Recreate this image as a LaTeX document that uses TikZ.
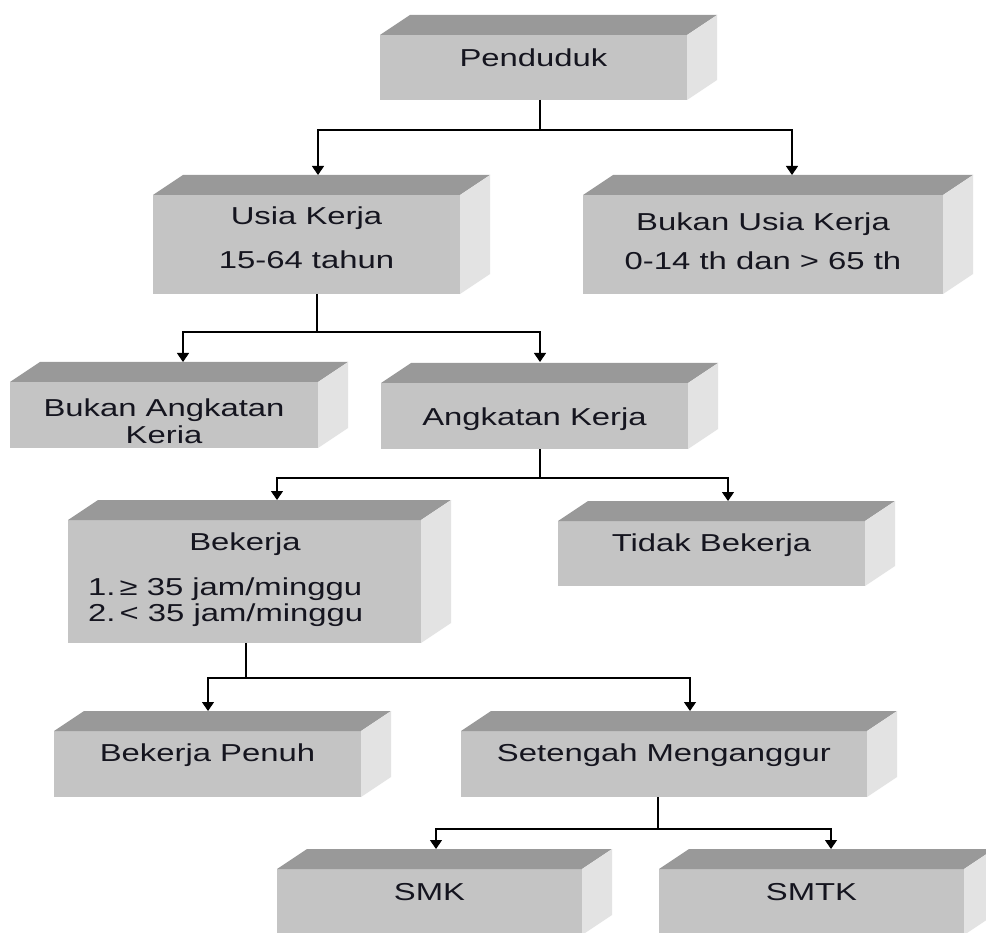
\documentclass[tikz,border=0pt]{standalone}
\usepackage{fontspec}
\setmainfont{Liberation Sans}[FakeStretch=1.34]
\usetikzlibrary{arrows.meta,calc}
\definecolor{frontc}{HTML}{C4C4C4}
\definecolor{topc}{HTML}{999999}
\definecolor{sidec}{HTML}{E3E3E3}
\definecolor{inkc}{HTML}{15151F}
\tikzset{
  frontface/.style={fill=frontc, draw=none, inner sep=0pt, outer sep=0pt, anchor=north west},
  txt/.style={font=\fontsize{24.5}{28}\selectfont, text=inkc, inner sep=0pt, text height=17.5pt, text depth=0pt},
  conn/.style={line width=1.3pt, draw=black},
  arr/.style={conn, -{Triangle[width=12pt,length=9pt]}}
}
% name, x1, y1, x2, y2 (pixel coordinates of the front face)
\newcommand\cubebox[5]{%
  \node[frontface, minimum width={#4-#2}, minimum height={#5-#3}] (#1) at (#2,#3) {};
  \fill[topc] (#1.north west) -- ++(30,-20) -- ([shift={(30,-20)}]#1.north east) -- (#1.north east) -- cycle;
  \fill[sidec] (#1.north east) -- ++(30,-20) -- ([shift={(30,-20)}]#1.south east) -- (#1.south east) -- cycle;
}
\begin{document}
\begin{tikzpicture}[x=1pt,y=-1pt]
\useasboundingbox (0,0) rectangle (986,933);
\clip (0,0) rectangle (986,933);
\fill[white] (0,0) rectangle (986,933);

\cubebox{pend}{380}{35}{687}{100}
\cubebox{usia}{153}{195}{460}{294}
\cubebox{bui}{583}{195}{943}{294}
\cubebox{bak}{10}{382}{318}{448}
\cubebox{ak}{381}{383}{688}{449}
\cubebox{bek}{68}{520}{421}{643}
\cubebox{tid}{558}{521}{865}{586}
\cubebox{bp}{54}{731}{361}{797}
\cubebox{sm}{461}{731}{867}{797}
\cubebox{smk}{277}{869}{582}{935}
\cubebox{smtk}{659}{869}{964}{935}

\node[txt] (t1) at (533.5,58) {Penduduk};
\node[txt] (t2) at (306.5,216) {Usia Kerja};
\node[txt] (t3) at (306.5,260) {15-64 tahun};
\node[txt] (t4) at (763,222) {Bukan Usia Kerja};
\node[txt] (t5) at (763,261) {0-14 th dan > 65 th};
\node[txt] (t6) at (164,408) {Bukan Angkatan};
\node[txt] (t7) at (164,435) {Keria};
\node[txt] (t8) at (534.5,417) {Angkatan Kerja};
\node[txt] (t9) at (245,542) {Bekerja};
\node[txt, anchor=west] (t10) at (88,587) {1.\,≥ 35 jam/minggu};
\node[txt, anchor=west] (t11) at (88,613) {2.\,< 35 jam/minggu};
\node[txt] (t12) at (711.5,543) {Tidak Bekerja};
\node[txt] (t13) at (207.5,753) {Bekerja Penuh};
\node[txt] (t14) at (664,753) {Setengah Menganggur};
\node[txt] (t15) at (429.5,892) {SMK};
\node[txt] (t16) at (811.5,892) {SMTK};

% junctions and arrow targets
\coordinate (p0) at (540,130);
\coordinate (usiaIn) at (318,175);
\coordinate (buiIn) at (792,175);
\coordinate (u0) at (317,332);
\coordinate (bakIn) at (183,362);
\coordinate (akIn) at (540,362);
\coordinate (a0) at (540,478);
\coordinate (bekIn) at (277,500);
\coordinate (tidIn) at (728,501);
\coordinate (b0) at (246,678);
\coordinate (bpIn) at (208,711);
\coordinate (smIn) at (690,711);
\coordinate (s0) at (658,829);
\coordinate (smkIn) at (436,849);
\coordinate (smtkIn) at (831,849);

\draw[conn] (pend.south -| p0) -- (p0);
\draw[arr] (p0) -| (usiaIn);
\draw[arr] (p0) -| (buiIn);

\draw[conn] (usia.south -| u0) -- (u0);
\draw[arr] (u0) -| (bakIn);
\draw[arr] (u0) -| (akIn);

\draw[conn] (ak.south -| a0) -- (a0);
\draw[arr] (a0) -| (bekIn);
\draw[arr] (a0) -| (tidIn);

\draw[conn] (bek.south -| b0) -- (b0);
\draw[arr] (b0) -| (bpIn);
\draw[arr] (b0) -| (smIn);

\draw[conn] (sm.south -| s0) -- (s0);
\draw[arr] (s0) -| (smkIn);
\draw[arr] (s0) -| (smtkIn);
\end{tikzpicture}
\end{document}
